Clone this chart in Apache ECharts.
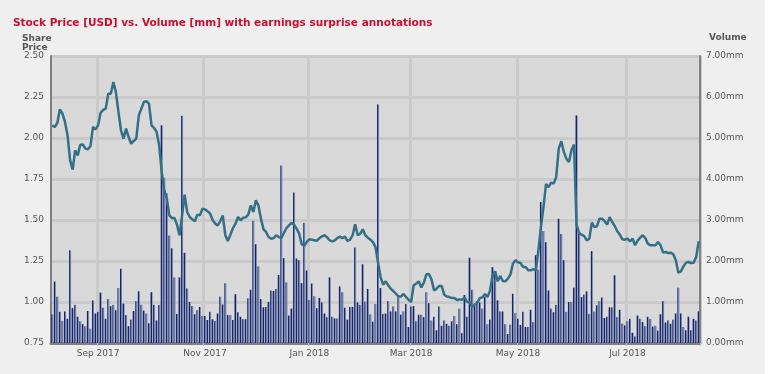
<!DOCTYPE html>
<html>
<head>
<meta charset="utf-8">
<script src="https://cdn.jsdelivr.net/npm/echarts@6/dist/echarts.min.js"></script>
<style>
html,body{margin:0;padding:0;background:#ffffff;}
#chart{width:771px;height:374px;}
</style>
</head>
<body>
<div id="chart"></div>
<script>
// ---- data ----
const titleText = 'Stock Price [USD] vs. Volume [mm] with earnings surprise annotations';
const startDate = '2017-08-08';
const endDate = '2018-08-10';
const marketHolidays = ['2017-09-04','2017-11-23','2017-12-25','2018-01-01','2018-01-15','2018-02-19','2018-03-30','2018-05-28','2018-07-04'];
const monthNames = ['Jan','Feb','Mar','Apr','May','Jun','Jul','Aug','Sep','Oct','Nov','Dec'];
const labelMonths = [0,2,4,6,8,10]; // Jan, Mar, May, Jul, Sep, Nov
const priceTicks = [0.75, 2.5, 0.25]; // min, max, step
const volumeTicks = [0, 7, 1];

const volume = [
0.70,1.50,1.13,0.76,0.54,0.77,0.59,2.26,0.85,0.93,
0.64,0.53,0.46,0.41,0.78,0.35,1.04,0.72,0.76,1.23,
0.86,0.59,1.07,0.90,0.93,0.80,1.34,1.81,0.96,0.68,
0.41,0.57,0.78,1.02,1.26,0.93,0.79,0.72,0.48,1.24,
0.93,0.55,0.93,5.31,4.03,3.65,2.62,2.31,1.60,0.71,
1.60,5.54,2.20,1.33,1.00,0.90,0.70,0.80,0.88,0.66,
0.66,0.56,0.76,0.58,0.54,0.72,1.13,0.94,1.46,0.68,
0.68,0.56,1.19,0.75,0.64,0.58,0.58,1.09,1.30,2.98,
2.41,1.87,1.07,0.87,0.88,1.00,1.28,1.27,1.32,1.66,
4.33,2.07,1.48,0.67,0.84,3.67,2.06,2.02,1.46,2.93,
1.77,1.05,1.45,1.14,0.85,1.10,0.99,0.72,0.63,1.60,
0.64,0.60,0.60,1.38,1.24,0.86,0.57,0.88,0.88,2.33,
0.99,0.93,1.92,1.01,1.32,0.70,0.52,0.95,5.82,1.34,
0.71,0.72,1.02,0.77,0.89,0.77,1.13,0.69,0.77,0.95,
0.39,0.89,0.90,0.53,0.69,0.69,0.63,1.24,0.97,0.55,
0.64,0.31,0.89,0.42,0.55,0.47,0.42,0.53,0.66,0.46,
0.84,0.24,1.17,0.64,2.08,1.30,0.92,1.02,0.99,0.84,
1.12,0.46,0.57,1.85,1.69,1.04,0.77,0.77,0.46,0.22,
0.45,1.20,0.73,0.59,0.44,0.76,0.39,0.39,0.81,0.51,
2.14,1.79,3.44,2.73,2.46,1.28,0.84,0.75,0.93,3.03,
2.66,2.02,0.76,1.00,1.00,1.35,5.55,2.67,1.12,1.18,
1.26,0.71,2.24,0.77,0.92,1.02,1.11,0.61,0.64,0.87,
0.87,1.65,0.63,0.81,0.47,0.43,0.53,0.59,0.25,0.16,
0.67,0.59,0.51,0.41,0.64,0.59,0.40,0.42,0.30,0.70,
1.02,0.50,0.55,0.47,0.57,0.72,1.35,0.72,0.39,0.31,
0.64,0.31,0.59,0.55,0.77
];

const price = [
2.077,2.067,2.093,2.175,2.148,2.098,2.016,1.864,1.807,1.925,
1.894,1.959,1.961,1.935,1.931,1.951,2.067,2.053,2.077,2.154,
2.171,2.179,2.270,2.270,2.341,2.280,2.159,2.047,1.996,2.057,
2.006,1.965,1.982,1.996,2.138,2.179,2.220,2.224,2.209,2.077,
2.061,2.037,1.955,1.793,1.681,1.630,1.528,1.512,1.512,1.472,
1.407,1.528,1.654,1.549,1.518,1.504,1.492,1.533,1.528,1.569,
1.565,1.553,1.540,1.500,1.478,1.467,1.492,1.528,1.407,1.372,
1.411,1.451,1.478,1.518,1.498,1.514,1.516,1.533,1.589,1.549,
1.620,1.589,1.508,1.443,1.427,1.396,1.386,1.390,1.407,1.396,
1.390,1.421,1.451,1.467,1.482,1.472,1.447,1.417,1.352,1.343,
1.366,1.382,1.380,1.376,1.374,1.390,1.400,1.407,1.394,1.376,
1.370,1.376,1.390,1.398,1.390,1.398,1.372,1.380,1.407,1.474,
1.407,1.417,1.443,1.407,1.392,1.380,1.365,1.335,1.240,1.152,
1.106,1.126,1.102,1.081,1.067,1.051,1.035,1.033,1.049,1.030,
1.014,1.000,1.102,1.112,1.126,1.089,1.118,1.169,1.171,1.138,
1.071,1.081,1.098,1.098,1.045,1.033,1.030,1.024,1.024,1.012,
1.016,1.014,1.028,1.000,1.000,0.970,0.984,0.998,1.024,1.028,
1.049,1.030,1.071,1.163,1.187,1.126,1.159,1.128,1.126,1.142,
1.167,1.234,1.254,1.242,1.238,1.213,1.213,1.193,1.193,1.200,
1.193,1.315,1.457,1.579,1.720,1.700,1.728,1.722,1.762,1.935,
1.980,1.915,1.874,1.854,1.925,1.960,1.470,1.421,1.411,1.402,
1.376,1.386,1.484,1.457,1.461,1.508,1.508,1.494,1.472,1.518,
1.488,1.463,1.431,1.411,1.382,1.380,1.386,1.370,1.386,1.346,
1.374,1.392,1.407,1.390,1.356,1.346,1.346,1.346,1.366,1.346,
1.301,1.305,1.299,1.301,1.291,1.254,1.179,1.187,1.217,1.240,
1.244,1.238,1.240,1.274,1.370
];

// trading-day categories
function pad(n){return n<10?'0'+n:''+n;}
function buildDays(s,e,hol){
  const out=[]; const d=new Date(s+'T00:00:00Z'); const end=new Date(e+'T00:00:00Z');
  while(d<=end){
    const wd=d.getUTCDay();
    const str=d.getUTCFullYear()+'-'+pad(d.getUTCMonth()+1)+'-'+pad(d.getUTCDate());
    if(wd!==0&&wd!==6&&hol.indexOf(str)<0) out.push(str);
    d.setUTCDate(d.getUTCDate()+1);
  }
  return out;
}
const categories = buildDays(startDate,endDate,marketHolidays);

function isLabelDay(idx){
  if(idx===0) return false;
  const m=+categories[idx].slice(5,7)-1;
  const pm=+categories[idx-1].slice(5,7)-1;
  return m!==pm && labelMonths.indexOf(m)>=0;
}
function fmtMonth(v){
  return monthNames[+v.slice(5,7)-1]+' '+v.slice(0,4);
}

const FONT='DejaVu Sans';
const barFill={type:'linear',x:0,y:0,x2:1,y2:0,colorStops:[
  {offset:0,color:'#15236a'},{offset:0.5,color:'#15236a'},
  {offset:0.5,color:'#7080aa'},{offset:1,color:'#7080aa'}]};
const chart=echarts.init(document.getElementById('chart'),null,{renderer:'canvas'});
chart.setOption({
  animation:false,
  backgroundColor:'#efefef',
  title:{text:titleText,left:8,top:13,textStyle:{color:'#c8102e',fontSize:10.5,fontWeight:'bold',fontFamily:FONT}},
  graphic:[
    {type:'rect',left:765,top:0,shape:{width:6,height:374},style:{fill:'#ffffff'}},
    {type:'text',left:22,top:34,style:{text:'Share\nPrice',fill:'#555555',font:'bold 9px "DejaVu Sans"',lineHeight:9}},
    {type:'text',left:709,top:33,style:{text:'Volume',fill:'#555555',font:'bold 9px "DejaVu Sans"'}}
  ],
  grid:{left:51,right:71,top:56,bottom:31,show:true,backgroundColor:'#d9d9d9',borderWidth:0},
  xAxis:{
    type:'category',data:categories,boundaryGap:true,
    axisLine:{show:true,lineStyle:{color:'#808080',width:3}},
    axisTick:{show:true,interval:function(i){return isLabelDay(i);},length:3,lineStyle:{color:'#a9c4e0',width:1}},
    axisLabel:{interval:function(i){return isLabelDay(i);},formatter:fmtMonth,color:'#555555',fontSize:9,fontFamily:FONT,margin:6},
    splitLine:{show:true,interval:function(i){return isLabelDay(i);},lineStyle:{color:'#cacaca',width:3}}
  },
  yAxis:[
    {type:'value',min:priceTicks[0],max:priceTicks[1],interval:priceTicks[2],position:'left',
     axisLine:{show:true,lineStyle:{color:'#808080',width:2}},axisTick:{show:false},
     axisLabel:{formatter:function(v){return v.toFixed(2);},color:'#555555',fontSize:9,fontFamily:FONT,margin:7},
     splitLine:{show:true,lineStyle:{color:'#cacaca',width:3}}},
    {type:'value',min:volumeTicks[0],max:volumeTicks[1],interval:volumeTicks[2],position:'right',
     axisLine:{show:true,lineStyle:{color:'#808080',width:2}},axisTick:{show:false},
     axisLabel:{formatter:function(v){return v.toFixed(2)+'mm';},color:'#555555',fontSize:9,fontFamily:FONT,margin:6},
     splitLine:{show:false}}
  ],
  series:[
    {type:'bar',yAxisIndex:1,data:volume,barWidth:2,
     itemStyle:{color:barFill}},
    {type:'line',yAxisIndex:0,data:price,showSymbol:false,symbol:'none',
     lineStyle:{color:'#337088',width:2.5},z:5}
  ]
});
</script>
</body>
</html>
